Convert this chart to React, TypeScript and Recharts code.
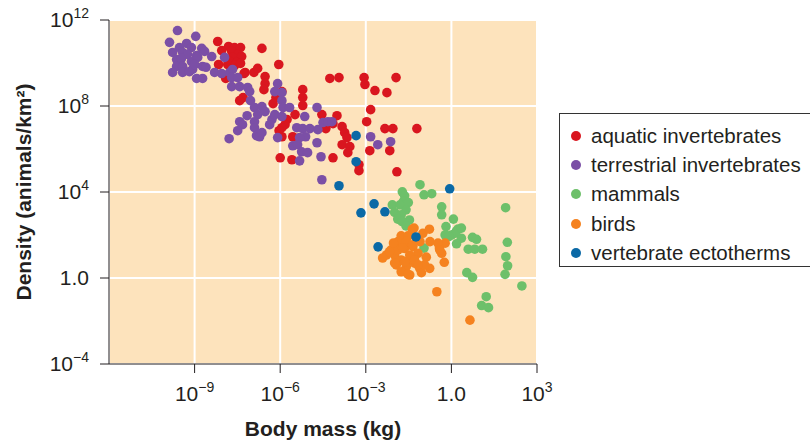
import { ScatterChart, Scatter, XAxis, YAxis, CartesianGrid } from "recharts";

// values are log10: x = body mass (kg), y = density (animals/km²)
const aquatic: [number, number][] = [
  [-8.19, 11.0], [-7.81, 10.77], [-7.6, 10.72], [-7.39, 10.72], [-8.05, 10.58], [-7.7, 10.54],
  [-7.49, 10.4], [-7.67, 10.26], [-7.35, 10.3], [-7.77, 10.07], [-7.53, 10.02], [-8.16, 9.93],
  [-7.84, 9.93], [-7.6, 9.88], [-7.39, 9.98], [-7.23, 9.56], [-7.91, 9.28], [-7.27, 9.51],
  [-6.92, 9.56], [-6.79, 9.75], [-6.64, 10.68], [-7.3, 8.39], [-7.42, 8.25], [-6.05, 9.93],
  [-6.53, 9.37], [-6.53, 9.04], [-6.57, 8.76], [-5.94, 8.67], [-6.15, 8.39], [-6.25, 8.11],
  [-5.21, 8.76], [-5.21, 8.39], [-5.21, 8.02], [-5.48, 7.6], [-5.76, 7.37], [-5.83, 7.13],
  [-5.94, 6.99], [-6.04, 6.85], [-5.94, 6.57], [-5.56, 6.57], [-6.0, 5.59], [-5.59, 5.5],
  [-4.54, 7.6], [-4.01, 7.55], [-4.15, 7.18], [-3.83, 7.04], [-3.74, 6.76], [-3.66, 6.53],
  [-3.83, 6.2], [-3.56, 6.11], [-3.63, 5.83], [-4.15, 5.59], [-3.24, 5.27], [-3.24, 4.99],
  [-1.91, 4.94], [-4.26, 9.28], [-3.94, 9.32], [-3.06, 9.32], [-3.03, 9.0], [-2.68, 8.72],
  [-2.26, 8.62], [-1.94, 9.32], [-2.83, 7.83], [-2.97, 7.27], [-2.33, 6.95], [-2.05, 6.95],
  [-1.21, 6.95], [-2.86, 5.92], [-2.16, 5.92], [-4.4, 6.95],
];

const terrestrial: [number, number][] = [
  [-9.6, 11.51], [-8.96, 11.24], [-9.88, 10.96], [-9.28, 10.91], [-9.53, 10.72], [-9.11, 10.72],
  [-8.75, 10.68], [-9.77, 10.49], [-9.42, 10.49], [-9.25, 10.4], [-8.93, 10.35], [-8.4, 10.3],
  [-9.63, 10.16], [-9.46, 10.21], [-9.11, 10.07], [-8.89, 10.26], [-8.72, 9.84], [-9.63, 9.84],
  [-9.42, 9.84], [-9.07, 9.7], [-9.77, 9.56], [-9.42, 9.56], [-9.18, 9.6], [-8.93, 9.28],
  [-8.72, 9.28], [-8.3, 9.56], [-8.05, 9.51], [-7.77, 9.56], [-7.95, 10.26], [-7.67, 9.7],
  [-7.7, 9.32], [-7.49, 9.32], [-7.7, 8.9], [-7.42, 8.9], [-7.14, 8.86], [-8.65, 10.54],
  [-9.0, 9.93], [-8.6, 9.8], [-7.07, 8.67], [-7.04, 8.25], [-6.9, 7.93], [-6.64, 7.97],
  [-6.79, 7.6], [-7.16, 7.55], [-6.9, 7.27], [-7.42, 7.27], [-7.32, 7.13], [-7.49, 6.85],
  [-7.79, 6.48], [-6.9, 6.99], [-6.83, 6.62], [-6.72, 6.57], [-6.29, 7.37], [-6.37, 7.13],
  [-6.09, 9.04], [-5.94, 8.62], [-6.19, 8.67], [-5.94, 8.25], [-5.9, 7.93], [-5.67, 7.93],
  [-6.19, 7.6], [-5.94, 7.51], [-5.14, 7.51], [-4.71, 7.93], [-5.42, 6.99], [-5.21, 6.95],
  [-4.96, 6.95], [-4.68, 6.9], [-4.5, 7.23], [-4.33, 7.27], [-4.19, 7.27], [-5.11, 6.57],
  [-5.32, 6.53], [-5.56, 6.15], [-5.39, 6.2], [-4.71, 6.29], [-5.25, 5.87], [-5.04, 5.83],
  [-5.32, 5.45], [-4.57, 5.64], [-4.54, 4.57], [-2.83, 6.57], [-2.58, 6.2], [-2.13, 6.34],
  [-6.64, 6.76], [-6.09, 6.53], [-6.53, 7.74],
];

const mammals: [number, number][] = [
  [-1.1, 4.34], [-0.96, 3.87], [-0.69, 3.92], [-1.72, 4.01], [-1.64, 3.82], [-1.68, 3.56],
  [-1.51, 3.51], [-2.07, 3.4], [-1.8, 3.4], [-1.59, 3.17], [-1.99, 3.05], [-1.76, 2.94],
  [-1.88, 2.74], [-1.47, 2.7], [-1.73, 2.62], [-1.59, 2.42], [-0.34, 3.31], [-0.34, 2.94],
  [0.07, 2.74], [-0.19, 2.39], [0.24, 2.28], [-0.22, 2.0], [0.0, 2.0], [0.12, 2.08],
  [0.35, 1.85], [0.18, 1.59], [0.74, 1.89], [0.88, 1.8], [0.59, 1.34], [0.82, 1.34],
  [1.09, 1.34], [1.9, 3.27], [1.96, 1.66], [1.91, 0.99], [1.97, 0.57], [1.88, 0.17],
  [2.47, -0.37], [0.54, 0.25], [0.74, 0.03], [1.22, -0.87], [1.06, -1.28], [1.3, -1.38],
  [-0.96, 1.39], [-0.09, 1.93], [0.18, 2.19], [0.35, 2.32],
];

const birds: [number, number][] = [
  [-1.37, 2.27], [-1.0, 2.08], [-0.77, 2.27], [-0.75, 1.69], [-1.1, 1.69], [-0.22, 1.62],
  [-0.42, 1.39], [-0.34, 1.15], [-0.25, 0.73], [-0.51, -0.64], [0.65, -1.96], [-1.76, 1.96],
  [-1.52, 1.96], [-1.87, 1.69], [-2.11, 1.31], [-2.28, 1.07], [-1.99, 1.07], [-1.64, 1.38],
  [-1.35, 1.46], [-1.17, 1.15], [-0.88, 0.97], [-1.76, 0.84], [-1.4, 0.84], [-1.93, 0.61],
  [-1.58, 0.53], [-1.11, 0.45], [-0.76, 0.45], [-1.76, 0.29], [-1.46, 0.14], [-1.05, 0.25],
  [-1.29, 0.69], [-0.94, 0.61], [-1.46, 1.07], [-1.87, 1.31], [-1.58, 1.69], [-1.23, 1.85],
  [-1.31, 2.32], [-2.17, 1.23], [-1.52, 0.17], [-0.47, 1.62], [-0.41, 1.31], [-2.03, 1.63],
  [-1.36, 1.54], [-1.71, 1.4], [-1.29, 0.84], [-1.64, 0.76], [-1.99, 0.7], [-1.17, 0.61],
  [-2.41, 0.93],
];

const ectotherms: [number, number][] = [
  [-3.34, 6.62], [-3.34, 5.41], [-3.94, 4.29], [-0.06, 4.15], [-2.71, 3.45], [-3.17, 3.03],
  [-2.33, 3.08], [-1.24, 1.91], [-2.57, 1.45],
];

const xTicks = [-9, -6, -3, 0, 3];
const yTicks = [-4, 0, 4, 8, 12];

const series = [
  { name: "aquatic invertebrates", color: "#d9161f", points: aquatic },
  { name: "terrestrial invertebrates", color: "#7b4fa6", points: terrestrial },
  { name: "mammals", color: "#6dc06a", points: mammals },
  { name: "birds", color: "#f5821f", points: birds },
  { name: "vertebrate ectotherms", color: "#0a69a6", points: ectotherms },
];

const font = "'Liberation Sans', Arial, sans-serif";
const ink = "#231f20";

function powerLabel(v: number) {
  if (v === 0) return { base: "1.0", exp: "" };
  return { base: "10", exp: v < 0 ? `\u2212${-v}` : `${v}` };
}

function YTick({ x, y, payload }: any) {
  const { base, exp } = powerLabel(payload.value);
  return (
    <text x={x} y={y + 7} textAnchor="end" fill={ink} fontSize={21} fontFamily={font}>
      <tspan>{base}</tspan>
      {exp && (
        <tspan dy={-9} fontSize={14}>
          {exp}
        </tspan>
      )}
    </text>
  );
}

function XTick({ x, y, payload }: any) {
  const { base, exp } = powerLabel(payload.value);
  return (
    <text x={x} y={y + 28} textAnchor="middle" fill={ink} fontSize={21} fontFamily={font}>
      <tspan>{base}</tspan>
      {exp && (
        <tspan dy={-9} fontSize={14}>
          {exp}
        </tspan>
      )}
    </text>
  );
}

const dot = (color: string) => (p: any) => <circle cx={p.cx} cy={p.cy} r={4.8} fill={color} />;

export default function App() {
  return (
    <div style={{ position: "absolute", left: 0, top: 0, width: 810, height: 441, background: "#fff" }}>
      <ScatterChart width={810} height={441} margin={{ top: 20, right: 273, bottom: 0, left: 0 }}>
        <CartesianGrid fill="#fde3bc" stroke="#ffffff" strokeWidth={2} />
        <XAxis
          type="number"
          dataKey="x"
          domain={[-12, 3]}
          ticks={xTicks}
          height={77}
          tickSize={9}
          tickMargin={0}
          stroke={ink}
          tick={<XTick />}
          allowDataOverflow
          label={{
            value: "Body mass (kg)",
            position: "insideBottom",
            offset: 5,
            fill: ink,
            fontSize: 21,
            fontWeight: 700,
            fontFamily: font,
          }}
        />
        <YAxis
          type="number"
          dataKey="y"
          domain={[-4, 12]}
          ticks={yTicks}
          width={109}
          tickSize={9}
          tickMargin={11}
          stroke={ink}
          tick={<YTick />}
          allowDataOverflow
          label={{
            value: "Density (animals/km\u00b2)",
            angle: -90,
            position: "insideLeft",
            offset: 24,
            style: { textAnchor: "middle" },
            fill: ink,
            fontSize: 21,
            fontWeight: 700,
            fontFamily: font,
          }}
        />
        {series.map((s) => (
          <Scatter
            key={s.name}
            name={s.name}
            data={s.points.map(([x, y]) => ({ x, y }))}
            fill={s.color}
            shape={dot(s.color)}
            isAnimationActive={false}
          />
        ))}
      </ScatterChart>
      <div
        style={{
          position: "absolute",
          left: 559,
          top: 113,
          width: 260,
          height: 154,
          border: "1px solid #333",
          boxSizing: "border-box",
          fontFamily: font,
          fontSize: 20.5,
          color: ink,
          paddingTop: 7,
        }}
      >
        {series.map((s) => (
          <div key={s.name} style={{ display: "flex", alignItems: "center", height: 29.3, whiteSpace: "nowrap" }}>
            <span
              style={{
                display: "inline-block",
                flexShrink: 0,
                width: 10,
                height: 10,
                borderRadius: 5,
                background: s.color,
                marginLeft: 11,
                marginRight: 10,
              }}
            />
            {s.name}
          </div>
        ))}
      </div>
    </div>
  );
}
